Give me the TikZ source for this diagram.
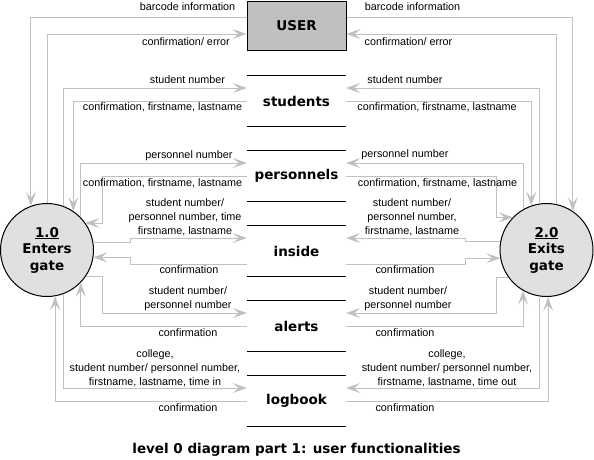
\documentclass[tikz,border=0pt]{standalone}
\usepackage{fontspec}
\setmainfont{DejaVu Sans}
\newfontfamily\lblfont{Liberation Sans}
\usetikzlibrary{arrows.meta,calc}
\definecolor{linegray}{RGB}{192,192,192}
\definecolor{userfill}{RGB}{192,192,192}
\definecolor{procfill}{RGB}{224,224,224}
\begin{document}
\begin{tikzpicture}[x=1pt,y=-1pt,
  flow/.style={draw=linegray, line width=1pt, -{Stealth[length=14pt,width=10pt,inset=6pt,fill=linegray]}},
  lbl/.style={font=\lblfont\fontsize{10.8}{14}\selectfont, inner sep=0pt, align=center},
  titlestyle/.style={font=\bfseries\fontsize{13.5}{16.5}\selectfont, inner sep=0pt},
  store/.style={minimum width=99pt, minimum height=50pt, inner sep=0pt, font=\bfseries\fontsize{13.5}{16}\selectfont},
  storeline/.style={draw=black, line width=1pt},
  proc/.style={circle, draw=black, line width=1pt, fill=procfill, minimum size=93pt, inner sep=0pt, align=center, font=\bfseries\fontsize{13.5}{16.5}\selectfont},
  ext/.style={draw=black, line width=1pt, fill=userfill, minimum width=99pt, minimum height=49pt, inner sep=0pt, font=\bfseries\fontsize{13.5}{16}\selectfont}
]
\useasboundingbox (0,0) rectangle (594,459);

% external entity
\node[ext] (user) at (296.5,25.5) {USER};

% data stores
\node[store] (students) at (296.5,101) {students};
\node[store] (personnels) at (296.5,176) {personnels};
\node[store] (inside) at (296.5,251) {inside};
\node[store] (alerts) at (296.5,326) {alerts};
\node[store] (logbook) at (296.5,401) {logbook};
\foreach \s in {students,personnels,inside,alerts,logbook}{
  \draw[storeline] (\s.north west) -- (\s.north east);
  \draw[storeline] (\s.south west) -- (\s.south east);
}

% processes
\node[proc] (p1) at (47,250) {\underline{1.0}\\Enters\\gate};
\node[proc] (p2) at (546.5,250) {\underline{2.0}\\Exits\\gate};

% left connectors
\draw[flow] ([yshift=8.5pt]user.west) -| (p1.110.1);
\draw[flow] (p1.90) |- ([yshift=-8.5pt]user.west);
\draw[flow] (p1.69.9) |- ([yshift=13pt]students.west);
\draw[flow] (students.west) -| (p1.56);
\draw[flow] (p1.44.8) |- ([yshift=13pt]personnels.west);
\draw[flow] (personnels.west) -| ([xshift=17pt]p1.35.5) -- (p1.35.5);
\draw[flow] (p1.9.9) -- ([xshift=37pt]p1.9.9) |- ([yshift=13pt]inside.west);
\draw[flow] ([yshift=-13pt]inside.west) -| ([xshift=37pt]p1.-9.9) -- (p1.-9.9);
\draw[flow] (p1.-35.5) -- ([xshift=17pt]p1.-35.5) |- ([yshift=13pt]alerts.west);
\draw[flow] (alerts.west) -| (p1.-44.8);
\draw[flow] (p1.-69.9) |- ([yshift=13pt]logbook.west);
\draw[flow] (logbook.west) -| (p1.-80.1);

% right connectors
\draw[flow] ([yshift=8.5pt]user.east) -| (p2.56.8);
\draw[flow] (p2.78.2) |- ([yshift=-8.5pt]user.east);
\draw[flow] (p2.99.3) |- ([yshift=13pt]students.east);
\draw[flow] (students.east) -| (p2.109.5);
\draw[flow] (p2.120.3) |- ([yshift=13pt]personnels.east);
\draw[flow] (personnels.east) -| ([xshift=-15.8pt]p2.136.5) -- (p2.136.5);
\draw[flow] (p2.170.1) -- ([xshift=-34.7pt]p2.170.1) |- ([yshift=13pt]inside.east);
\draw[flow] ([yshift=-13pt]inside.east) -| ([xshift=-34.7pt]p2.-170.1) -- (p2.-170.1);
\draw[flow] (p2.-144.5) -- ([xshift=-11.6pt]p2.-144.5) |- ([yshift=13pt]alerts.east);
\draw[flow] (alerts.east) -| (p2.-120.3);
\draw[flow] (p2.-99.3) |- ([yshift=13pt]logbook.east);
\draw[flow] (logbook.east) -| (p2.-88);

% left labels
\node[lbl] (l1) at (187.5,7) {barcode information};
\node[lbl] (l2) at (186,42) {confirmation/ error};
\node[lbl] (l3) at (187.5,80) {student number};
\node[lbl] (l4) at (162.5,107) {confirmation, firstname, lastname};
\node[lbl] (l5) at (189,156) {personnel number};
\node[lbl] (l6) at (162.5,183) {confirmation, firstname, lastname};
\node[lbl] (l7) at (185,217.5) {student number/\\personnel number, time\\firstname, lastname};
\node[lbl] (l8) at (189,270) {confirmation};
\node[lbl] (l9) at (188,298.5) {student number/\\personnel number};
\node[lbl] (l10) at (188,333) {confirmation};
\node[lbl] (l11) at (155,368) {college,\\student number/ personnel number,\\firstname, lastname, time in};
\node[lbl] (l12) at (188,408) {confirmation};

% right labels
\node[lbl] (r1) at (412.5,7) {barcode information};
\node[lbl] (r2) at (408.5,42) {confirmation/ error};
\node[lbl] (r3) at (405,80) {student number};
\node[lbl] (r4) at (437,107) {confirmation, firstname, lastname};
\node[lbl] (r5) at (405,155) {personnel number};
\node[lbl] (r6) at (437.5,183) {confirmation, firstname, lastname};
\node[lbl] (r7) at (412,217.5) {student number/\\personnel number,\\firstname, lastname};
\node[lbl] (r8) at (405,270) {confirmation};
\node[lbl] (r9) at (408,298.5) {student number/\\personnel number};
\node[lbl] (r10) at (405,333) {confirmation};
\node[lbl] (r11) at (447,368) {college,\\student number/ personnel number,\\firstname, lastname, time out};
\node[lbl] (r12) at (405,408) {confirmation};

% title
\node[titlestyle] (title) at (296.5,450) {level 0 diagram part 1: user functionalities};
\end{tikzpicture}
\end{document}
